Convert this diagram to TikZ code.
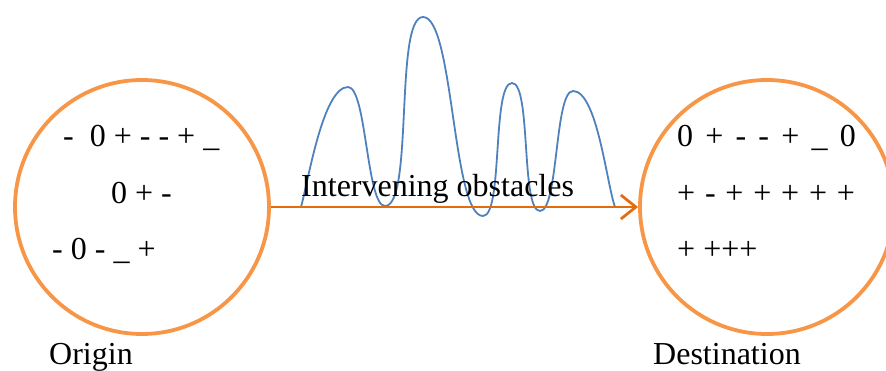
\documentclass[tikz,border=0pt]{standalone}
\usepackage{fontspec}
\setmainfont{Liberation Serif}
\usepackage{tikz}
\usetikzlibrary{arrows.meta,positioning}
\definecolor{ringorange}{HTML}{F79646}
\definecolor{floworange}{HTML}{E46C0A}
\definecolor{waveblue}{HTML}{4F81BD}

\begin{document}
\begin{tikzpicture}[x=1pt, y=1pt,
  place/.style={circle, draw=ringorange, line width=3.8pt, minimum size=254pt, inner sep=0pt},
  signs/.style={font=\fontsize{32}{36}\selectfont, inner sep=0pt, anchor=base west},
  flow/.style={-{Straight Barb[length=15pt, width=24pt, line width=2.8pt]}, line width=2.8pt, floworange},
  obstacle/.style={waveblue, line width=1.8pt, looseness=0.38}]
\useasboundingbox (0,0) rectangle (886,370);
\clip (0,0) rectangle (886,370);

% --- Origin (left) ---
\node[place] (origin) at (142,163) {};
\node[signs] (orgA) at (63,223) {-~~0 + - - + \_};
\node[signs] (orgB) at (111,167) {0 + -};
\node[signs] (orgC) at (52,111) {- 0 - \_ +};
\node[signs] (orglabel) at (49,6) {Origin};

% --- Destination (right) ---
\node[place] (dest) at (767,163) {};
\node[signs] (dstA) at (677,223) {\spaceskip=12.2pt 0 + - - + \_ 0};
\node[signs] (dstB) at (677,167) {\spaceskip=9.8pt + - + + + + +};
\node[signs] (dstC) at (677,111) {+ +++};
\node[signs] (dstlabel) at (653,6) {Destination};

% --- Obstacles between them ---
\draw[obstacle] (301,163) to[out=74,in=180,looseness=0.5] (348,283)
  to[out=0,in=180] (385,164) to[out=0,in=180] (423,353)
  to[out=0,in=180] (483,154) to[out=0,in=180] (512,287)
  to[out=0,in=180] (540,159) to[out=0,in=180] (573,279)
  to[out=0,in=110,looseness=0.5] (615,163);

% Arrow
\draw[flow] (origin.east) -- (dest.west);
\node[signs] (obstlabel) at (301,173) {Intervening obstacles};
\end{tikzpicture}
\end{document}
